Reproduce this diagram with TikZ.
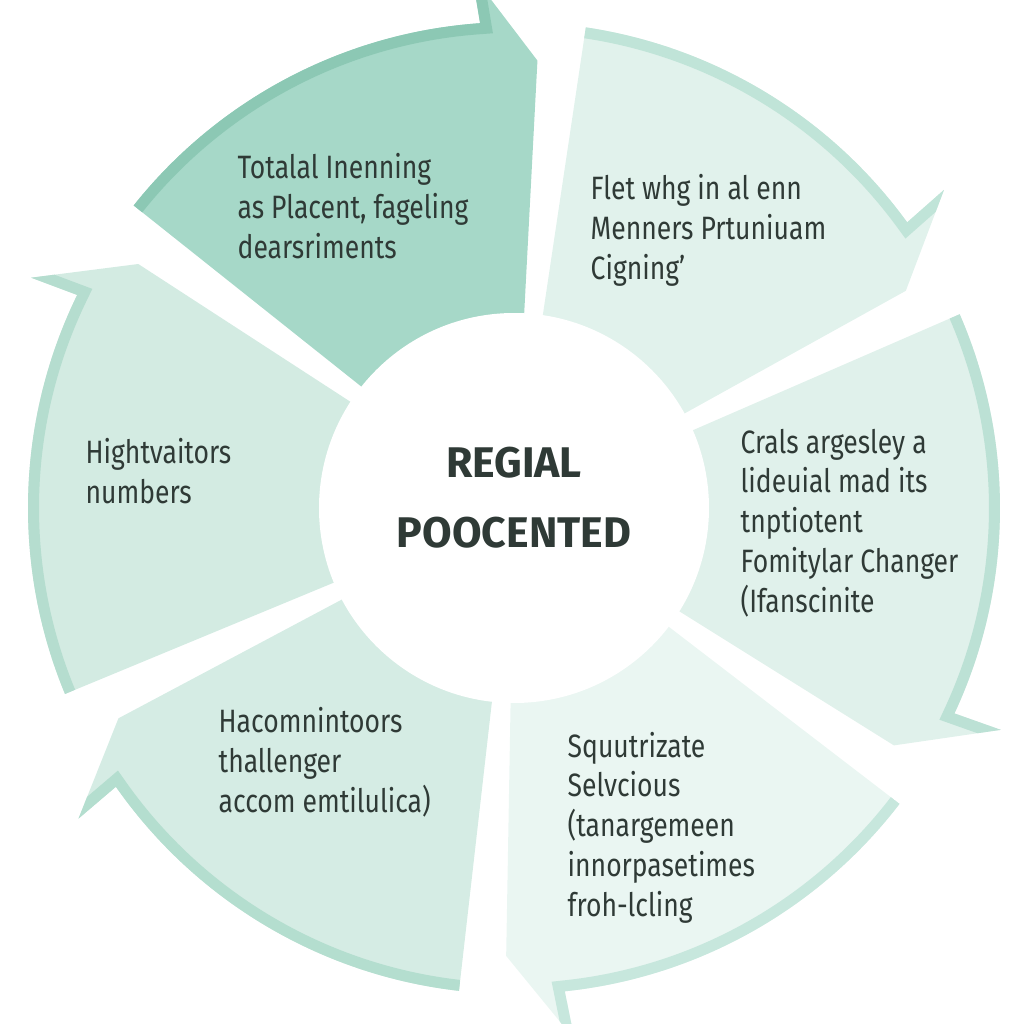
\documentclass[tikz,border=0pt]{standalone}
\usepackage{fontspec}
\setmainfont{Fira Sans}[FakeStretch=0.82]
\newfontfamily\hubfont{Fira Sans}
\definecolor{segA}{HTML}{A6D8C8}
\definecolor{bandA}{HTML}{8CC8B4}
\definecolor{segB}{HTML}{E1F2EC}
\definecolor{bandB}{HTML}{C0E4D8}
\definecolor{segC}{HTML}{E0F1EB}
\definecolor{bandC}{HTML}{BCE1D5}
\definecolor{segD}{HTML}{EAF6F2}
\definecolor{bandD}{HTML}{C7E7DD}
\definecolor{segE}{HTML}{D5ECE4}
\definecolor{bandE}{HTML}{B4DECF}
\definecolor{segF}{HTML}{D3EBE2}
\definecolor{bandF}{HTML}{B5DDCF}
\definecolor{ink}{HTML}{2F3A36}
\newcommand\segpath[2]{(#1:\Rin) -- (#1:\Rout) arc[start angle=#1, end angle=#2+7, radius=\Rout] -- (#2+7.5:\Rbarb) -- (#2:\Rtip) -- (#2:\Rin) arc[start angle=#2, end angle=#1, radius=\Rin] -- cycle}
\begin{document}
\begin{tikzpicture}[
	seg text/.style={anchor=base west, align=left, inner sep=0pt, text=ink, font=\fontsize{9.2}{11.3}\selectfont},
	hub/.style={circle, fill=white, minimum size=3.9cm, inner sep=0pt},
	hub text/.style={align=center, inner sep=0pt, text=ink, font=\hubfont\bfseries\fontsize{12.2}{19.9}\selectfont}
	]
	\def\Rin{1.9}
	\def\Rout{4.86}
	\def\Rbarb{5.35}
	\def\Rtip{4.48}
	\useasboundingbox (-5.14,-5.16) rectangle (5.10,5.08);
	\foreach \s/\e/\fc/\bc in {141.5/87/segA/bandA, 81.5/29/segB/bandB, 23.5/-32/segC/bandC, -37.5/-91/segD/bandD, -96.5/-152/segE/bandE, 202.5/147/segF/bandF}{
		\fill[\fc] \segpath{\s}{\e};
		\begin{scope}
			\clip \segpath{\s}{\e};
			\draw[\bc, line width=0.22cm] (\s:\Rout) arc[start angle=\s, end angle=\e+7, radius=\Rout] -- (\e+7.5:\Rbarb);
		\end{scope}
	}
	\node[hub] (hub) at (0,0) {};
	\node[hub text] (title) at (0,0.1) {REGIAL\\POOCENTED};
	
	% base anchor sits on the last line of each block
	\node[seg text] (T1) at (-2.77,2.50) {Totalal Inenning\\as Placent, fageling\\dearsriments};
	\node[seg text] (T2) at (0.76,2.29) {Flet whg in al enn\\Menners Prtuniuam\\Cigning’};
	\node[seg text] (T3) at (2.26,-1.04) {Crals argesley a\\lideuial mad its\\tnptiotent\\Fomitylar Changer\\(Ifanscinite};
	\node[seg text] (T4) at (0.53,-4.08) {Squutrizate\\Selvcious\\(tanargemeen\\innorpasetimes\\froh-lcling};
	\node[seg text] (T5) at (-2.96,-3.04) {Hacomnintoors\\thallenger\\accom emtilulica)};
	\node[seg text] (T6) at (-4.29,0.05) {Hightvaitors\\numbers};
\end{tikzpicture}
\end{document}
